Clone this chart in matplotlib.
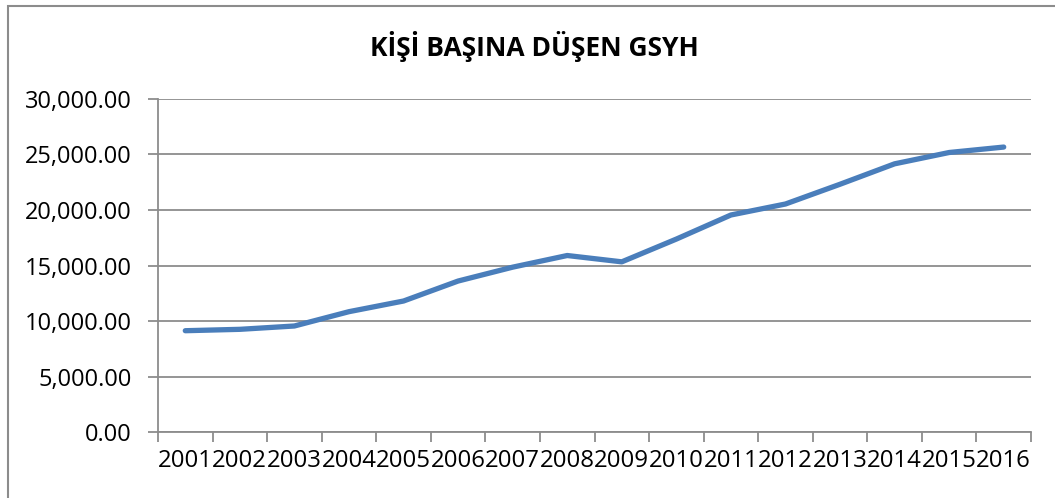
import matplotlib
matplotlib.use("Agg")
import matplotlib.pyplot as plt
from matplotlib.ticker import FuncFormatter, FixedLocator
from matplotlib.patches import Rectangle

plt.rcParams['font.family'] = ['Open Sans', 'DejaVu Sans']

years = ['2001', '2002', '2003', '2004', '2005', '2006', '2007', '2008',
         '2009', '2010', '2011', '2012', '2013', '2014', '2015', '2016']
gdp_per_capita = [9125, 9250, 9550, 10840, 11800, 13600, 14850, 15900,
                  15330, 17380, 19550, 20540, 22320, 24160, 25180, 25670]
title = 'KİŞİ BAŞINA DÜŞEN GSYH'
y_ticks = [0, 5000, 10000, 15000, 20000, 25000, 30000]

fig = plt.figure(figsize=(10.55, 4.98), dpi=100)
ax = fig.add_axes([158/1055, 1-432/498, (1031-158)/1055, (432-99)/498])

# outer chart frame
fig.patches.append(Rectangle((8/1055, -0.05), 1.1, 1-6/498+0.05,
                             transform=fig.transFigure, fill=False,
                             edgecolor='#8c8c8c', linewidth=1.5))

n = len(years)
xs = [i + 0.5 for i in range(n)]
ax.plot(xs, gdp_per_capita, color='#4a7ebb', linewidth=3.8,
        solid_capstyle='round', solid_joinstyle='round', zorder=3)

ax.set_xlim(0, n)
ax.set_ylim(0, 30000)
ax.set_yticks(y_ticks)
ax.yaxis.set_major_formatter(FuncFormatter(lambda v, p: f'{v:,.2f}'))
ax.grid(axis='y', color='#8c8c8c', linewidth=1.3)
ax.set_axisbelow(True)

ax.xaxis.set_major_locator(FixedLocator(list(range(n + 1))))
ax.xaxis.set_minor_locator(FixedLocator(xs))
ax.set_xticklabels([], minor=False)
ax.set_xticklabels(years, minor=True)
ax.tick_params(axis='x', which='major', length=7, width=1.3, color='#8c8c8c')
ax.tick_params(axis='x', which='minor', length=0, pad=12, labelsize=17.3)
ax.tick_params(axis='y', length=7, width=1.3, color='#8c8c8c', pad=12, labelsize=17)

for s in ['top', 'right']:
    ax.spines[s].set_visible(False)
for s in ['left', 'bottom']:
    ax.spines[s].set_color('#8c8c8c')
    ax.spines[s].set_linewidth(1.3)

fig.text(534/1055, 1-47/498, title, ha='center', va='center',
         fontsize=19, fontweight='bold')

fig.savefig('out.png', dpi=100)
